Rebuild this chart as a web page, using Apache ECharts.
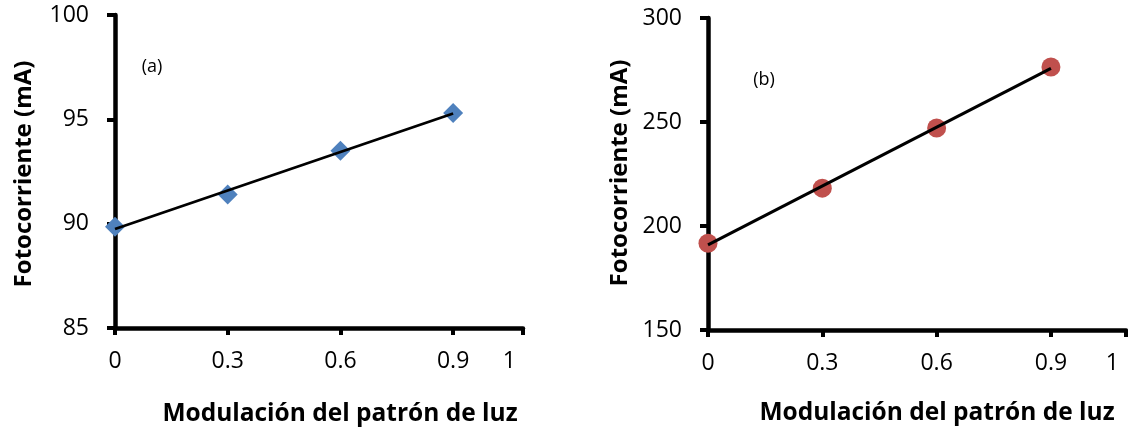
<!DOCTYPE html>
<html>
<head>
<meta charset="utf-8">
<script src="https://cdn.jsdelivr.net/npm/echarts@6/dist/echarts.min.js"></script>
<style>
html,body{margin:0;padding:0;background:#fff;}
#chart{width:1128px;height:434px;}
</style>
</head>
<body>
<div id="chart"></div>
<script>
// ---- data ----
const xValues = [0, 0.3, 0.6, 0.9];
const seriesA = [89.85, 91.4, 93.5, 95.3];
const seriesB = [191.7, 218.2, 247.1, 276.4];
const xTickLabels = ['0', '0.3', '0.6', '0.9', '1'];
const yTicksA = [85, 90, 95, 100];
const yTicksB = [150, 200, 250, 300];
const panelLabels = ['(a)', '(b)'];
const xTitle = 'Modulación del patrón de luz';
const yTitle = 'Fotocorriente (mA)';

// least squares trendline from the data
function fit(xs, ys) {
  const n = xs.length;
  const mx = xs.reduce((a, b) => a + b, 0) / n;
  const my = ys.reduce((a, b) => a + b, 0) / n;
  let sxy = 0, sxx = 0;
  for (let i = 0; i < n; i++) { sxy += (xs[i] - mx) * (ys[i] - my); sxx += (xs[i] - mx) ** 2; }
  const s = sxy / sxx, b = my - s * mx;
  return [[xs[0], b + s * xs[0]], [xs[n - 1], b + s * xs[n - 1]]];
}

const FONT = 'Open Sans';
const TICK_FS = 23;
const AXIS_W = 4.5;
const chart = echarts.init(document.getElementById('chart'), null, {renderer: 'canvas'});

function xAxisCfg(gridIndex, xMax) {
  const vals = [0, 0.3, 0.6, 0.9, xMax];
  return {
    type: 'value', gridIndex: gridIndex, min: 0, max: xMax,
    axisLine: {show: true, lineStyle: {color: '#000', width: AXIS_W}},
    axisTick: {show: true, customValues: vals, length: 7, lineStyle: {color: '#000', width: 4}},
    axisLabel: {
      customValues: vals, margin: 22, color: '#000', fontFamily: FONT, fontSize: TICK_FS,
      alignMaxLabel: 'right',
      formatter: function (v) {
        const i = vals.indexOf(v);
        if (i === vals.length - 1) return '{last|' + xTickLabels[i] + '}';
        return i >= 0 ? xTickLabels[i] : '';
      },
      rich: {last: {fontFamily: FONT, fontSize: TICK_FS, color: '#000', padding: [0, 7, 0, 0]}}
    },
    splitLine: {show: false}
  };
}
function yAxisCfg(gridIndex, ticks) {
  return {
    type: 'value', gridIndex: gridIndex, min: ticks[0], max: ticks[ticks.length - 1],
    interval: ticks[1] - ticks[0],
    axisLine: {show: true, lineStyle: {color: '#000', width: AXIS_W}},
    axisTick: {show: true, length: 8, lineStyle: {color: '#000', width: 4}},
    axisLabel: {margin: 26, color: '#000', fontFamily: FONT, fontSize: TICK_FS},
    splitLine: {show: false}
  };
}

const ptsA = xValues.map((x, i) => [x, seriesA[i]]);
const ptsB = xValues.map((x, i) => [x, seriesB[i]]);

const option = {
  backgroundColor: '#fff',
  animation: false,
  grid: [
    {left: 115, top: 15, width: 408, height: 313},
    {left: 708, top: 18, width: 418, height: 312}
  ],
  xAxis: [xAxisCfg(0, 1.086), xAxisCfg(1, 1.097)],
  yAxis: [yAxisCfg(0, yTicksA), yAxisCfg(1, yTicksB)],
  graphic: [
    {type: 'text', x: 24, y: 174, rotation: Math.PI / 2,
     style: {text: yTitle, fill: '#000', font: 'bold 24px "' + FONT + '"', textAlign: 'center', textVerticalAlign: 'middle'}},
    {type: 'text', x: 620, y: 173, rotation: Math.PI / 2,
     style: {text: yTitle, fill: '#000', font: 'bold 24px "' + FONT + '"', textAlign: 'center', textVerticalAlign: 'middle'}},
    {type: 'text', x: 340, y: 414,
     style: {text: xTitle, fill: '#000', font: 'bold 24.5px "' + FONT + '"', textAlign: 'center', textVerticalAlign: 'middle'}},
    {type: 'text', x: 937, y: 413,
     style: {text: xTitle, fill: '#000', font: 'bold 24.5px "' + FONT + '"', textAlign: 'center', textVerticalAlign: 'middle'}},
    {type: 'text', x: 152, y: 67,
     style: {text: panelLabels[0], fill: '#000', font: '18px "' + FONT + '"', textAlign: 'center', textVerticalAlign: 'middle'}},
    {type: 'text', x: 764, y: 80,
     style: {text: panelLabels[1], fill: '#000', font: '18px "' + FONT + '"', textAlign: 'center', textVerticalAlign: 'middle'}}
  ],
  series: [
    {type: 'scatter', xAxisIndex: 0, yAxisIndex: 0, data: ptsA, symbol: 'diamond', symbolSize: 20,
     itemStyle: {color: '#4F81BD', opacity: 1}, z: 2},
    {type: 'line', xAxisIndex: 0, yAxisIndex: 0, data: fit(xValues, seriesA), symbol: 'none',
     lineStyle: {color: '#000', width: 2.8}, z: 3},
    {type: 'scatter', xAxisIndex: 1, yAxisIndex: 1, data: ptsB, symbol: 'circle', symbolSize: 19,
     itemStyle: {color: '#C0504D', opacity: 1}, z: 2},
    {type: 'line', xAxisIndex: 1, yAxisIndex: 1, data: fit(xValues, seriesB), symbol: 'none',
     lineStyle: {color: '#000', width: 3.1}, z: 3}
  ]
};
chart.setOption(option);
</script>
</body>
</html>
